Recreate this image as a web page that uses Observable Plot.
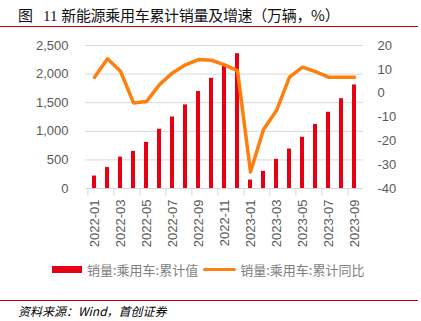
<!DOCTYPE html>
<html><head><meta charset="utf-8">
<script src="https://cdn.jsdelivr.net/npm/d3@7"></script>
<script src="https://cdn.jsdelivr.net/npm/@observablehq/plot@0.6"></script>
<style>
body{margin:0;width:421px;height:321px;background:#fff;position:relative;overflow:hidden;font-family:"Liberation Sans","Noto Sans CJK SC",sans-serif}
#title{position:absolute;left:18px;top:4px;font-size:15px;color:#111;font-family:"Liberation Serif","Noto Sans CJK SC",serif;white-space:nowrap}
#title .cjk{font-family:"Noto Sans CJK SC",sans-serif;letter-spacing:-0.3px}
#title .num{margin-left:10px}
.hr{position:absolute;left:0;width:418px;height:1px;background:#c00000}
#chart{position:absolute;left:0;top:35px}
#legend{position:absolute;top:260px;left:52px;font-size:13px;color:#808080;white-space:nowrap;display:flex;align-items:center;font-family:"Noto Sans CJK SC",sans-serif}
#legend .sw1{display:inline-block;width:30px;height:7px;background:#e60012;margin-right:5px}
#legend .sw2{display:inline-block;width:33px;height:3px;background:#ff8010;margin:0 4px 0 5px;border-radius:2px}
#source{position:absolute;left:18px;top:302px;font-size:12px;font-style:italic;color:#000;font-family:"Noto Sans CJK SC",sans-serif;white-space:nowrap}
</style></head>
<body>
<div id="title">图<span class="num">11</span> <span class="cjk">新能源乘用车累计销量及增速（万辆，%）</span></div>
<div class="hr" style="top:26px"></div>
<div id="chart"></div>
<div id="legend"><span class="sw1"></span>销量:乘用车:累计值<span class="sw2"></span>销量:乘用车:累计同比</div>
<div class="hr" style="top:300px"></div>
<div id="source">资料来源：Wind，首创证券</div>
<script>
const months = ["2022-01","2022-02","2022-03","2022-04","2022-05","2022-06","2022-07","2022-08","2022-09","2022-10","2022-11","2022-12",
  "2023-01","2023-02","2023-03","2023-04","2023-05","2023-06","2023-07","2023-08","2023-09"];
const cumulative = [218,366,548,648,806,1035,1250,1462,1695,1926,2136,2356,147,300,510,690,895,1120,1333,1570,1810];
const yoy = [6.7,14.4,9.2,-4.1,-3.5,3.6,8.5,11.9,14.1,13.8,11.9,9.5,-33.1,-15.2,-7.3,6.7,10.9,9.0,6.7,6.7,6.7];
const leftTicks = [0,500,1000,1500,2000,2500];
const rightTicks = [-40,-30,-20,-10,0,10,20];
const labelMonths = months.filter((d,i)=>i%2===0);

const leftMax = 2500, rMin = -40, rMax = 20;
const toLeft = v => (v - rMin) / (rMax - rMin) * leftMax;
const fromLeft = v => v / leftMax * (rMax - rMin) + rMin;

const data = months.map((m,i)=>({month:m, value:cumulative[i], yoy:yoy[i], yoyL:toLeft(yoy[i])}));

const W = 421, H = 225, mL = 85, mR = 58;
const step = (W - mL - mR) / months.length;

const chart = Plot.plot({
  width: W, height: H,
  marginTop: 10, marginBottom: 72, marginLeft: mL, marginRight: mR,
  style: {fontFamily: "Liberation Sans, Arial, sans-serif", fontSize: "13px", color: "#595959", background: "transparent"},
  x: {domain: months, paddingInner: 0.68, paddingOuter: 0.34, axis: null, label: null},
  y: {domain: [0, leftMax], axis: null, label: null},
  marks: [
    Plot.gridY(leftTicks, {stroke: "#d9d9d9", strokeOpacity: 1, strokeWidth: 1}),
    Plot.barY(data, {x: "month", y: "value", fill: "#e60012"}),
    Plot.line(data, {x: "month", y: "yoyL", stroke: "#ff7f0e", strokeWidth: 3.5, strokeLinejoin: "round"}),
    Plot.axisY({anchor: "left", label: null, ticks: leftTicks, tickSize: 0, tickPadding: 17, tickFormat: d3.format(","), fill: "#595959", fontSize: 13}),
    Plot.axisY({anchor: "right", label: null, ticks: rightTicks.map(toLeft), tickSize: 0, tickPadding: 14, tickFormat: d => Math.round(fromLeft(d)), fill: "#595959", fontSize: 13}),
    Plot.axisX({label: null, ticks: labelMonths, tickSize: 0, tickPadding: 11, tickRotate: -90, fill: "#595959", fontSize: 13}),
    Plot.axisX({label: null, ticks: labelMonths, tickSize: 8, tickFormat: () => "", stroke: "#d9d9d9", strokeOpacity: 1, dx: -step/2}),
    Plot.ruleY([0], {stroke: "#d9d9d9", strokeWidth: 1})
  ]
});
document.getElementById("chart").appendChild(chart);
</script>
</body></html>
